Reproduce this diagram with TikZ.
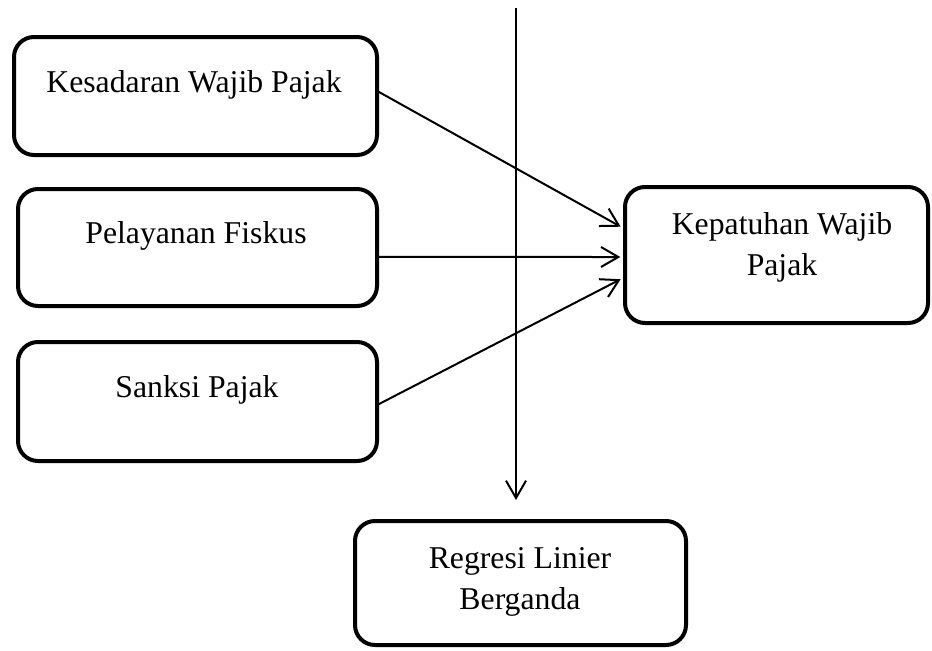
\documentclass[tikz,border=0pt]{standalone}
\usepackage{fontspec}
\setmainfont{Liberation Serif}
\usetikzlibrary{arrows.meta}
\begin{document}
\begin{tikzpicture}[x=0.75pt,y=-0.75pt,
  box/.style={draw,line width=3pt,rounded corners=15pt,inner sep=0pt},
  lbl/.style={inner sep=0pt,font=\fontsize{23.8}{30.75}\selectfont,align=center},
  conn/.style={line width=1.5pt,-{Straight Barb[length=13pt,width=15pt]}}]
\useasboundingbox (0,0) rectangle (932,650);
% boxes
\node[box,minimum width=272.25pt,minimum height=88.5pt] (kes) at (195.5,96) {};
\node[box,minimum width=269.25pt,minimum height=87.75pt] (pel) at (197.5,247.5) {};
\node[box,minimum width=269.25pt,minimum height=89.25pt] (san) at (197.5,401.5) {};
\node[box,minimum width=227.25pt,minimum height=102pt] (kep) at (776.5,255) {};
\node[box,minimum width=248.25pt,minimum height=93pt] (reg) at (520.5,583) {};
% labels
\node[lbl,anchor=base] (kest) at (194,92) {Kesadaran Wajib Pajak};
\node[lbl,anchor=base] (pelt) at (196,243) {Pelayanan Fiskus};
\node[lbl,anchor=base] (sant) at (197,397) {Sanksi Pajak};
\node[lbl] (kept) at (782,247.7) {Kepatuhan Wajib\\Pajak};
\node[lbl] (regt) at (520,581.6) {Regresi Linier\\Berganda};
% connectors
\draw[conn,shorten <=-3pt,shorten >=2pt] ([yshift=3pt]kes.east) -- ([yshift=20.25pt]kep.west);
\draw[conn,shorten <=-3pt,shorten >=2pt] ([yshift=-7.1pt]pel.east) -- ([yshift=-1.5pt]kep.west);
\draw[conn,shorten <=-3pt,shorten >=2pt] ([yshift=-1.9pt]san.east) -- ([yshift=-17.25pt]kep.west);
\coordinate (top) at (516,8);
\draw[conn,shorten >=14.25pt] (top) -- (top |- reg.north);
\end{tikzpicture}
\end{document}
